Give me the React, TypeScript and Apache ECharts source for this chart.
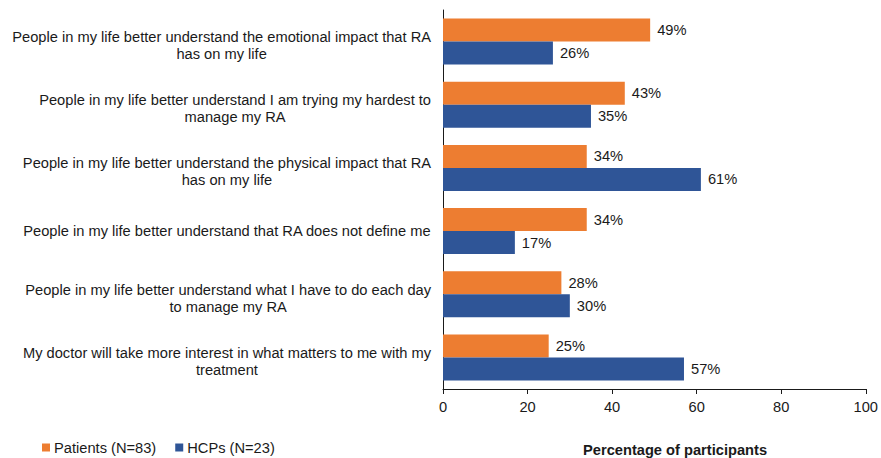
import React, { useEffect, useRef } from "react";
import * as echarts from "echarts";

const categories = [
  "People in my life better understand the emotional impact that RA\nhas on my life",
  "People in my life better understand I am trying my hardest to\nmanage my RA",
  "People in my life better understand the physical impact that RA\nhas on my life",
  "People in my life better understand that RA does not define me",
  "People in my life better understand what I have to do each day\nto manage my RA",
  "My doctor will take more interest in what matters to me with my\ntreatment",
];
const patients = [49, 43, 34, 34, 28, 25];
const hcps = [26, 35, 61, 17, 30, 57];
const seriesNames = ["Patients (N=83)", "HCPs (N=23)"];
const xTicks = { min: 0, max: 100, interval: 20 };
const axisTitle = "Percentage of participants";

const FONT = "'Liberation Sans', Arial, sans-serif";
const FS = 14.67;

export default function App() {
  const ref = useRef<HTMLDivElement>(null);
  useEffect(() => {
    if (!ref.current) return;
    const chart = echarts.init(ref.current, null, { renderer: "svg" });
    const label = {
      show: true,
      position: "right",
      distance: 7,
      formatter: "{c}%",
      color: "#1a1a1a",
      fontSize: FS,
      fontFamily: FONT,
    };
    chart.setOption({
      animation: false,
      textStyle: { fontFamily: FONT },
      grid: { left: 443, right: 14, top: 10, bottom: 69, containLabel: false },
      legend: {
        left: 37,
        top: 435,
        itemWidth: 8,
        itemHeight: 8,
        itemGap: 19,
        icon: "rect",
        textStyle: { fontSize: FS, color: "#1a1a1a", fontFamily: FONT, padding: [0, 0, 0, -1] },
        data: seriesNames,
      },
      xAxis: {
        type: "value",
        min: xTicks.min,
        max: xTicks.max,
        interval: xTicks.interval,
        splitLine: { show: false },
        axisLine: { show: true, lineStyle: { color: "#1a1a1a", width: 1 } },
        axisTick: { show: true, length: 5, lineStyle: { color: "#1a1a1a" } },
        axisLabel: { fontSize: FS, color: "#1a1a1a", margin: 10, fontFamily: FONT },
      },
      yAxis: {
        type: "category",
        inverse: true,
        data: categories,
        axisLine: { show: true, lineStyle: { color: "#1a1a1a", width: 1 } },
        axisTick: { show: false },
        axisLabel: {
          interval: 0,
          margin: 12,
          align: "right",
          fontSize: FS,
          color: "#1a1a1a",
          fontFamily: FONT,
          lineHeight: 17,
          formatter: (v: string) => {
            const lines = v.split("\n").map((s) => `{c|${s}}`);
            if (lines.length > 1) lines.unshift("{s| }");
            return lines.join("\n");
          },
          rich: {
            c: { align: "center", fontSize: FS, lineHeight: 17, fontFamily: FONT, color: "#1a1a1a" },
            s: { fontSize: 4, lineHeight: 8, align: "center" },
          },
        },
      },
      graphic: [
        {
          type: "text",
          left: 583,
          top: 442,
          style: {
            text: axisTitle,
            font: `bold ${FS}px ${FONT}`,
            fill: "#1a1a1a",
          },
        },
      ],
      series: [
        {
          name: seriesNames[0],
          type: "bar",
          data: patients,
          barWidth: 23,
          barGap: "0%",
          itemStyle: { color: "#ED7D31" },
          label,
        },
        {
          name: seriesNames[1],
          type: "bar",
          data: hcps,
          barWidth: 23,
          barGap: "0%",
          itemStyle: { color: "#2F5597" },
          label,
        },
      ],
    });
    return () => chart.dispose();
  }, []);
  return (
    <div
      ref={ref}
      style={{ position: "absolute", left: 0, top: 0, width: 881, height: 458 }}
    />
  );
}
